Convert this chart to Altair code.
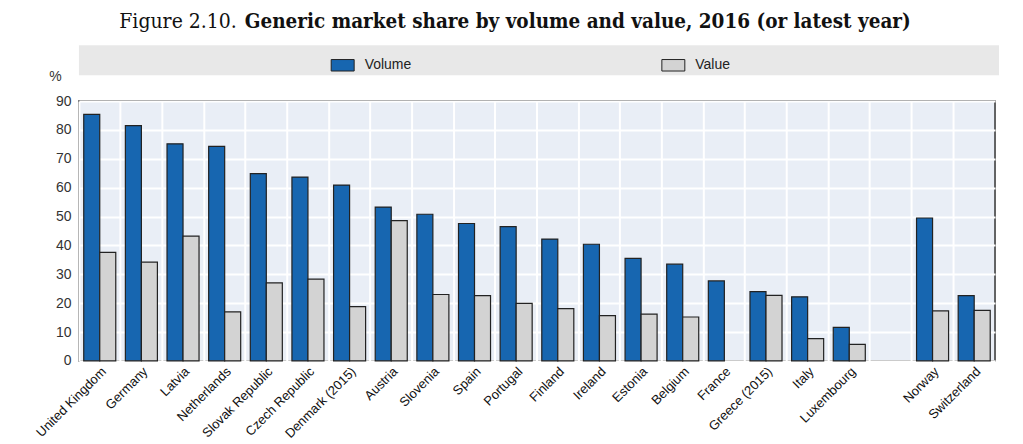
import altair as alt
import pandas as pd

countries = ["United Kingdom", "Germany", "Latvia", "Netherlands", "Slovak Republic",
             "Czech Republic", "Denmark (2015)", "Austria", "Slovenia", "Spain",
             "Portugal", "Finland", "Ireland", "Estonia", "Belgium", "France",
             "Greece (2015)", "Italy", "Luxembourg", " ", "Norway", "Switzerland"]
volume = [85.4, 81.5, 75.2, 74.3, 64.9, 63.7, 60.9, 53.3, 50.8, 47.6,
          46.5, 42.2, 40.4, 35.5, 33.5, 27.7, 24.0, 22.2, 11.6, None, 49.5, 22.6]
value = [37.6, 34.2, 43.2, 17.0, 27.0, 28.3, 18.8, 48.6, 23.0, 22.6,
         19.9, 18.1, 15.7, 16.2, 15.2, None, 22.7, 7.7, 5.7, None, 17.3, 17.5]
series = ["Volume", "Value"]
colors = ["#1766b0", "#d3d3d3"]
y_ticks = [0, 10, 20, 30, 40, 50, 60, 70, 80, 90]

rows = []
for c, v1, v2 in zip(countries, volume, value):
    if v1 is not None:
        rows.append({"country": c, "series": "Volume", "share": v1})
    if v2 is not None:
        rows.append({"country": c, "series": "Value", "share": v2})
df = pd.DataFrame(rows)

W, H = 917, 260
LABEL_FONT = "Liberation Sans Narrow, Arial Narrow, Liberation Sans, sans-serif"

bars = alt.Chart(df).mark_bar(stroke="#222222", strokeWidth=1.2).encode(
    x=alt.X("country:N", sort=countries,
            scale=alt.Scale(domain=countries, paddingInner=0, paddingOuter=0),
            axis=alt.Axis(title=None, labelAngle=-45, labelAlign="right",
                          labelBaseline="top", labelFont=LABEL_FONT, labelFontSize=13,
                          labelColor="#111111", grid=True, gridColor="white",
                          gridWidth=2, bandPosition=0, ticks=False, domain=False,
                          labelPadding=4, labelOffset=0)),
    xOffset=alt.XOffset("series:N", sort=series,
                        scale=alt.Scale(domain=series, paddingOuter=0.3, paddingInner=0)),
    y=alt.Y("share:Q", scale=alt.Scale(domain=[0, 90], nice=False),
            axis=alt.Axis(values=y_ticks, title="%", titleAngle=0, titleX=-24,
                          titleY=-18, titleFont="Liberation Sans", titleFontSize=14,
                          titleFontWeight="normal", titleColor="#333333",
                          labelFont="Liberation Sans", labelFontSize=14,
                          labelColor="#333333", labelPadding=8, ticks=False,
                          domain=False, grid=True, gridColor="white", gridWidth=2)),
    color=alt.Color("series:N", sort=series,
                    scale=alt.Scale(domain=series, range=colors),
                    legend=alt.Legend(title=None, orient="none", legendX=252,
                                      legendY=-48, direction="horizontal",
                                      symbolType="M-1,-0.5H1V0.5H-1Z", symbolSize=529,
                                      symbolStrokeColor="#222222", symbolStrokeWidth=1,
                                      labelFont=LABEL_FONT, labelFontSize=14,
                                      labelColor="#222222", columnPadding=248,
                                      labelOffset=10)),
)

band = alt.Chart(pd.DataFrame({"k": [0]})).mark_rect(color="#e8e8e8", clip=False).encode(
    x=alt.value(0), x2=alt.value(W + 4), y=alt.value(-56), y2=alt.value(-26)
)

title_a = alt.Chart(pd.DataFrame({"k": [0]})).mark_text(
    text="Figure 2.10.", font="DejaVu Serif Condensed", fontSize=21,
    fontWeight="normal", align="right", baseline="alphabetic", color="#111111"
).encode(x=alt.value(158), y=alt.value(-73))

title_b = alt.Chart(pd.DataFrame({"k": [0]})).mark_text(
    text="Generic market share by volume and value, 2016 (or latest year)",
    font="DejaVu Serif Condensed", fontSize=20.5, fontWeight="bold",
    align="left", baseline="alphabetic", color="#111111"
).encode(x=alt.value(166), y=alt.value(-73))

chart = alt.layer(band, bars, title_a, title_b).properties(
    width=W, height=H,
    autosize=alt.AutoSizeParams(type="none"),
    padding={"left": 71, "top": 93, "right": 20, "bottom": 82},
    background="white",
).configure_view(
    fill="#e9eef6", stroke="#333333", strokeWidth=1.5
)

chart.save("out.html", embed_options={"renderer": "svg", "actions": False})
